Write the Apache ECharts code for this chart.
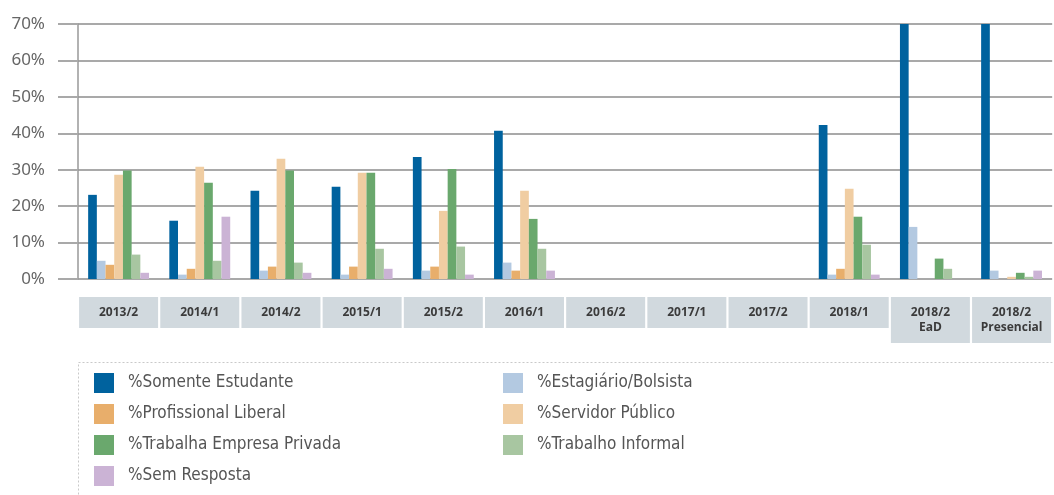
<!DOCTYPE html>
<html>
<head>
<meta charset="utf-8">
<title>Situação dos estudantes</title>
<script src="https://cdn.jsdelivr.net/npm/echarts@6/dist/echarts.min.js"></script>
<style>
    html, body {
        margin: 0;
        padding: 0;
        background: #fff;
    }

    #chart {
        width: 1054px;
        height: 495px;
    }
</style>
</head>
<body>
<div id="chart"></div>
<script>
// semestres
const categories = ['2013/2', '2014/1', '2014/2', '2015/1', '2015/2', '2016/1',
    '2016/2', '2017/1', '2017/2', '2018/1', '2018/2\nEaD', '2018/2\nPresencial'];

const yTicks = [0, 10, 20, 30, 40, 50, 60, 70];

// valores em % (null = sem dados)
const somenteEstudante = [23.1, 16.0, 24.2, 25.3, 33.5, 40.7, null, null, null, 42.3, 70, 70];
const estagiario = [5.0, 1.2, 2.3, 1.2, 2.3, 4.5, null, null, null, 1.2, 14.3, 2.3];
const profLiberal = [3.9, 2.8, 3.4, 3.4, 3.4, 2.3, null, null, null, 2.8, 0, 0];
const servidorPublico = [28.6, 30.8, 33.0, 29.2, 18.7, 24.2, null, null, null, 24.8, 0, 0.6];
const empresaPrivada = [29.8, 26.4, 29.8, 29.2, 30.2, 16.5, null, null, null, 17.1, 5.6, 1.7];
const trabInformal = [6.7, 5.0, 4.5, 8.3, 8.9, 8.3, null, null, null, 9.4, 2.8, 0.6];
const semResposta = [1.7, 17.1, 1.7, 2.8, 1.2, 2.3, null, null, null, 1.2, 0, 2.3];

const seriesList = [
    {name: '%Somente Estudante', data: somenteEstudante, color: '#00629e'},
    {name: '%Estagiário/Bolsista', data: estagiario, color: '#b3c9e1'},
    {name: '%Profissional Liberal', data: profLiberal, color: '#e8ae6b'},
    {name: '%Servidor Público', data: servidorPublico, color: '#f0cda2'},
    {name: '%Trabalha Empresa Privada', data: empresaPrivada, color: '#6aa86d'},
    {name: '%Trabalho Informal', data: trabInformal, color: '#a8c6a1'},
    {name: '%Sem Resposta', data: semResposta, color: '#cbb3d5'}
];

const legendFont = "'Liberation Sans Narrow', 'DejaVu Sans Condensed', 'Noto Sans', sans-serif";
const gridColor = '#a9a9a9';

let chart = echarts.init(document.getElementById('chart'), null, {renderer: 'canvas'});

let legendBase = {
    orient: 'vertical',
    top: 373,
    padding: 0,
    itemWidth: 20,
    itemHeight: 20,
    itemGap: 11,
    icon: 'rect',
    textStyle: {
        fontFamily: legendFont,
        fontSize: 17,
        color: '#555',
        padding: [0, 0, 0, 9]
    }
};

let option = {
    animation: false,
    grid: {
        left: 78,
        right: 0,
        top: 24,
        bottom: 216
    },
    legend: [
        Object.assign({}, legendBase, {
            left: 94,
            data: ['%Somente Estudante', '%Profissional Liberal', '%Trabalha Empresa Privada', '%Sem Resposta']
        }),
        Object.assign({}, legendBase, {
            left: 503,
            data: ['%Estagiário/Bolsista', '%Servidor Público', '%Trabalho Informal']
        })
    ],
    // moldura pontilhada da legenda
    graphic: [{
        type: 'rect',
        left: 76,
        top: 360,
        shape: {width: 1100, height: 200},
        style: {fill: 'none', stroke: '#c9c9c9', lineWidth: 1, lineDash: [2, 2]},
        silent: true
    }],
    xAxis: {
        type: 'category',
        data: categories,
        axisLine: {show: false},
        axisTick: {show: false},
        axisLabel: {
            interval: 0,
            margin: 18,
            width: 79,
            lineHeight: 15,
            padding: [8, 0, 8, 0],
            align: 'center',
            backgroundColor: '#d1d9de',
            color: '#3b3b3b',
            fontFamily: "'Open Sans', 'Noto Sans', sans-serif",
            fontWeight: 'bold',
            fontSize: 12
        }
    },
    yAxis: {
        type: 'value',
        min: yTicks[0],
        max: yTicks[yTicks.length - 1],
        interval: 10,
        axisLine: {show: true, lineStyle: {color: '#999', width: 1.5}},
        axisTick: {show: true, length: 20, lineStyle: {color: gridColor, width: 2}},
        axisLabel: {
            margin: 33,
            formatter: '{value}%',
            color: '#666',
            fontFamily: "'Noto Sans', sans-serif",
            fontSize: 17
        },
        splitLine: {lineStyle: {color: gridColor, width: 2}}
    },
    series: seriesList.map(s => ({
        name: s.name,
        type: 'bar',
        data: s.data,
        barGap: 0,
        barCategoryGap: '25%',
        itemStyle: {color: s.color}
    }))
};

chart.setOption(option);
</script>
</body>
</html>
